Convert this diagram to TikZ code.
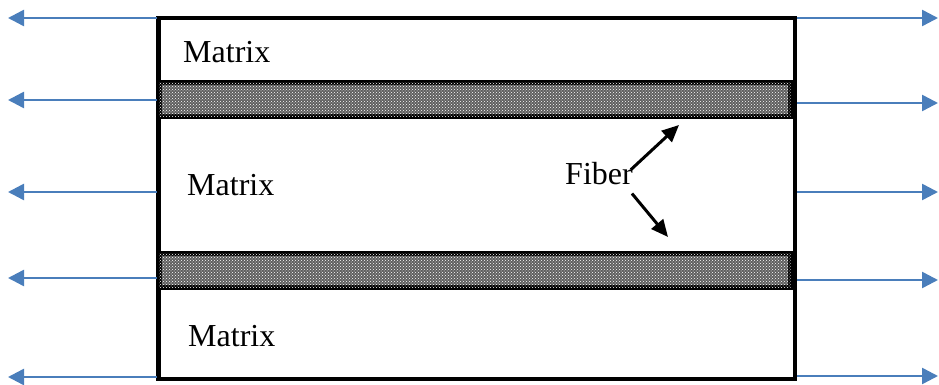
\documentclass[tikz,border=0pt]{standalone}
\usepackage{fontspec}
\setmainfont{Liberation Serif}
\usepackage{tikz}
\usetikzlibrary{arrows.meta, patterns, positioning, calc}
\definecolor{arrowblue}{RGB}{74,126,187}
\definecolor{fibergray}{RGB}{95,95,95}

\tikzset{
  pull/.style={draw=arrowblue, line width=2.5pt, -{Triangle[length=16pt,width=16pt]}},
  fiberbar/.style={draw=black, line width=5pt, fill=fibergray,
    postaction={pattern=crosshatch dots, pattern color=white}},
  label/.style={font=\fontsize{32}{38}\selectfont, inner sep=0pt, anchor=base west},
  pointer/.style={draw=black, line width=3pt, -{Triangle[length=17pt,width=15pt]}}
}

\begin{document}
\begin{tikzpicture}[x=1pt,y=1pt]
\useasboundingbox (0,0) rectangle (939,385);

% Matrix block
\draw[line width=4.5pt] (158.5,367) rectangle (795,6);

% Fibers
\draw[fiberbar] (159,302.5) rectangle (790.5,268.5);
\draw[fiberbar] (159,131.5) rectangle (790.5,97.5);

% Labels
\node[label] (mtop) at (183,322) {Matrix};
\node[label] (mmid) at (187,189) {Matrix};
\node[label] (mbot) at (188,38) {Matrix};
\node[label] (fib) at (565,200) {Fiber};

% Fiber pointers
\coordinate (fibup) at (679,260);
\coordinate (fibdown) at (668,148);
\draw[pointer] ([xshift=-2pt,yshift=-7pt]fib.north east) -- (fibup);
\draw[pointer] ([xshift=-1pt,yshift=-8pt]fib.south east) -- (fibdown);

% Load arrows
\foreach \i/\yl/\yr in {1/367/367, 2/285/282, 3/193/193, 4/107/105, 5/8/9} {
  \coordinate (ls\i) at (157,\yl);
  \coordinate (lt\i) at (8,\yl);
  \coordinate (rs\i) at (797,\yr);
  \coordinate (rt\i) at (938,\yr);
  \draw[pull] (ls\i) -- (lt\i);
  \draw[pull] (rs\i) -- (rt\i);
}
\end{tikzpicture}
\end{document}
